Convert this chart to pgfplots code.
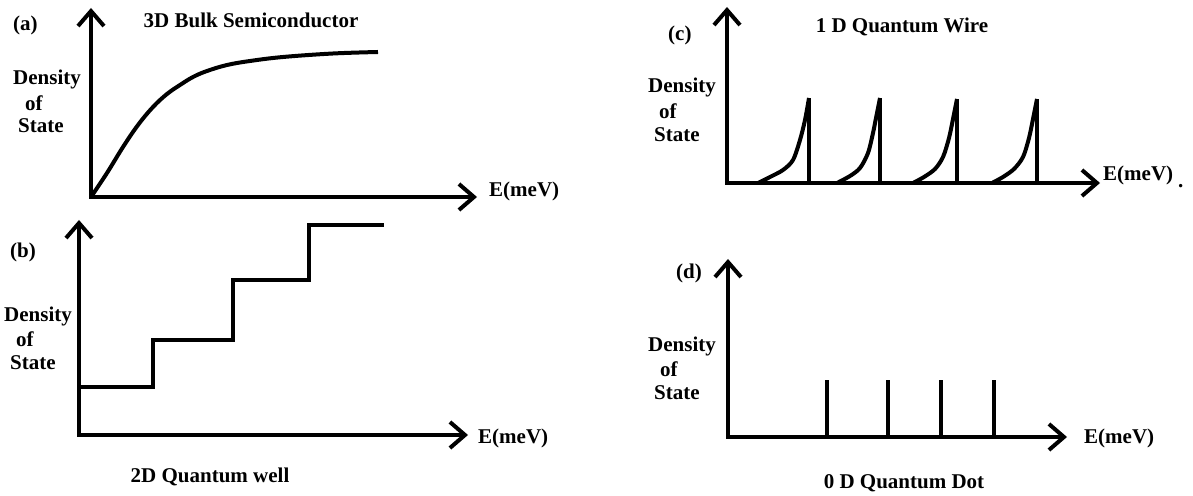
\documentclass[border=0pt]{standalone}
\usepackage{pgfplots}
\pgfplotsset{compat=1.18}
\usepackage{fontspec}
\setmainfont{Liberation Serif}
\usetikzlibrary{arrows.meta}

\pgfplotsset{
  dosaxis/.style={
    x=1pt, y=1pt, anchor=south west,
    axis lines=left, xtick=\empty, ytick=\empty,
    xmin=0, ymin=0, enlargelimits=false, clip=false,
    axis line style={line width=4pt, line cap=rect, -{Straight Barb[length=15pt,width=26pt]}},
  },
  dos/.style={black, line width=4pt, no markers},
}
\tikzset{lbl/.style={font=\fontsize{21}{24}\selectfont\bfseries, inner sep=0pt}}

\begin{document}
\begin{tikzpicture}[x=1pt,y=1pt]
\useasboundingbox (0,0) rectangle (1193,495);

% (a) 3D bulk
\begin{axis}[dosaxis, at={(91,298)}, xmax=386, ymax=189]
\addplot[dos, smooth, tension=0.6] coordinates {
(0,0) (16,24) (32,50) (47,72) (62,90) (76,103) (89,112) (102,120) (116,126)
(136,132) (159,136) (192,140) (242,143.5) (287,145)};
\end{axis}

% (b) 2D quantum well
\begin{axis}[dosaxis, at={(79,60)}, xmax=389, ymax=215]
\addplot[dos, const plot, line join=miter] coordinates {(0,48) (74,95) (154,155) (230,210) (305,210)};
\end{axis}

% (c) 1D quantum wire
\begin{axis}[dosaxis, at={(727,312)}, xmax=373, ymax=176]
\addplot[dos, smooth] coordinates {(31,0) (43,6) (56,13) (66,23) (73,43) (78,63) (82,85)};
\addplot[dos, smooth] coordinates {(110,0) (123,7) (133,15) (141,30) (146,50) (149,65) (153,85)};
\addplot[dos, smooth] coordinates {(186,0) (197,6) (208,14) (216,26) (222,45) (226,64) (230,84)};
\addplot[dos, smooth] coordinates {(265,0) (276,6) (287,14) (296,26) (302,45) (306,64) (310,84)};
\addplot[dos, ycomb] coordinates {(82,85) (153,85) (230,84) (310,84)};
\end{axis}

% (d) 0D quantum dot
\begin{axis}[dosaxis, at={(728,58)}, xmax=339, ymax=178]
\addplot[dos, ycomb] coordinates {(99,57) (160,57) (213,57) (266,57)};
\end{axis}

% labels (a)
\node[lbl, anchor=west] at (13,470) {(a)};
\node[lbl] at (251,475) {3D Bulk Semiconductor};
\node[lbl, anchor=west] at (13,416) {Density};
\node[lbl, anchor=west] at (25,392) {of};
\node[lbl, anchor=west] at (18,369) {State};
\node[lbl, anchor=west] at (489,304) {E(meV)};

% labels (b)
\node[lbl, anchor=west] at (10,243) {(b)};
\node[lbl, anchor=west] at (4,179) {Density};
\node[lbl, anchor=west] at (16,156) {of};
\node[lbl, anchor=west] at (10,132) {State};
\node[lbl, anchor=west] at (478,57) {E(meV)};
\node[lbl] at (210,18) {2D Quantum well};

% labels (c)
\node[lbl, anchor=west] at (668,460) {(c)};
\node[lbl] at (902,468) {1 D Quantum Wire};
\node[lbl, anchor=west] at (648,408) {Density};
\node[lbl, anchor=west] at (659,384) {of};
\node[lbl, anchor=west] at (654,360) {State};
\node[lbl, anchor=west] at (1103,320) {E(meV)};
\node[lbl, anchor=west] at (1178,309) {.};

% labels (d)
\node[lbl, anchor=west] at (676,222) {(d)};
\node[lbl, anchor=west] at (648,149) {Density};
\node[lbl, anchor=west] at (660,126) {of};
\node[lbl, anchor=west] at (654,102) {State};
\node[lbl, anchor=west] at (1084,57) {E(meV)};
\node[lbl] at (904,12) {0 D Quantum Dot};
\end{tikzpicture}
\end{document}
